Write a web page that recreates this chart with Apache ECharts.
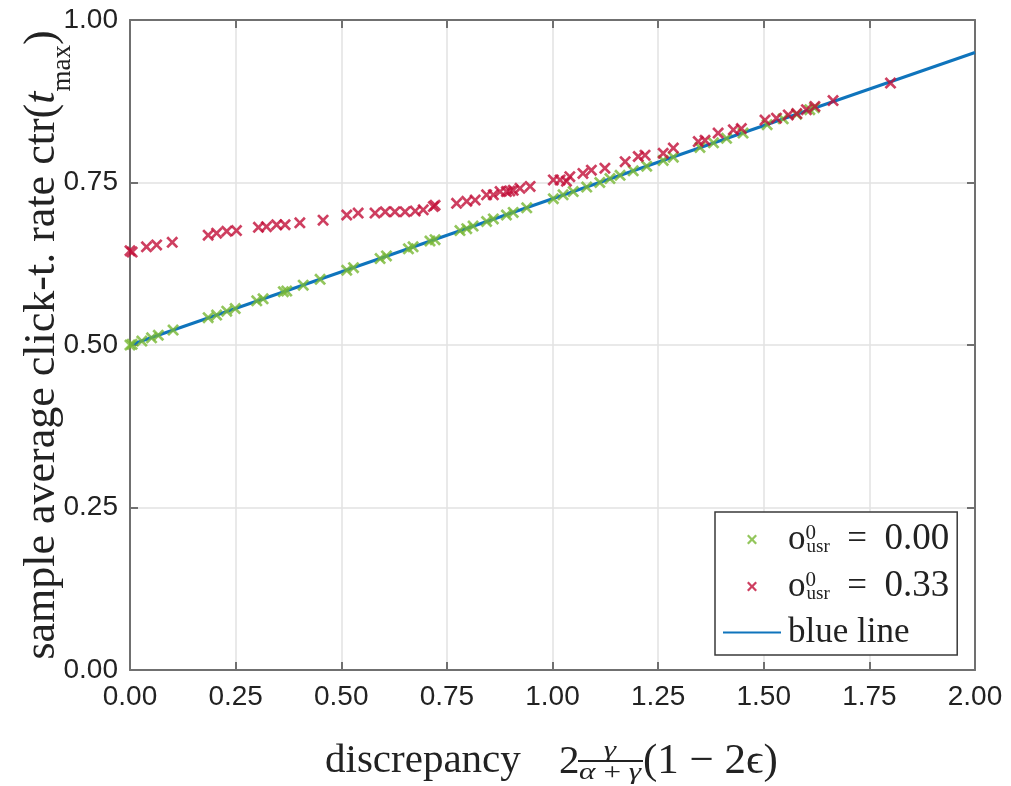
<!DOCTYPE html>
<html><head><meta charset="utf-8">
<script src="https://cdn.jsdelivr.net/npm/echarts@6/dist/echarts.min.js"></script>
<style>html,body{margin:0;padding:0;background:#fff}#c{width:1011px;height:786px}</style>
</head><body><div id="c"></div>
<script>
// ---- data ----
const xTickLabels = ['0.00','0.25','0.50','0.75','1.00','1.25','1.50','1.75','2.00'];
const yTickLabels = ['0.00','0.25','0.50','0.75','1.00'];
const seriesNames = ['o_usr^0 = 0.00', 'o_usr^0 = 0.33', 'blue line'];

const greenX = [0,0.005,0.028,0.051,0.067,0.102,0.185,0.205,0.229,0.249,0.300,0.315,0.363,0.371,0.410,0.450,0.513,0.529,0.592,0.607,0.659,0.670,0.710,0.722,0.781,0.797,0.812,0.844,0.860,0.891,0.907,0.939,1.002,1.025,1.049,1.081,1.112,1.136,1.160,1.191,1.223,1.262,1.286,1.349,1.381,1.412,1.451,1.508,1.546,1.578,1.609,1.620];
const greenY = [0.500,0.501,0.506,0.511,0.515,0.523,0.542,0.546,0.552,0.556,0.568,0.571,0.582,0.583,0.592,0.601,0.615,0.619,0.633,0.637,0.648,0.651,0.660,0.662,0.676,0.679,0.683,0.690,0.694,0.700,0.704,0.711,0.725,0.731,0.736,0.743,0.750,0.756,0.761,0.768,0.775,0.784,0.789,0.804,0.811,0.818,0.826,0.839,0.848,0.855,0.862,0.865];

const redX = [0,0.005,0.039,0.063,0.100,0.185,0.205,0.229,0.252,0.304,0.323,0.347,0.367,0.402,0.457,0.513,0.540,0.580,0.604,0.627,0.651,0.675,0.694,0.718,0.722,0.773,0.797,0.817,0.844,0.860,0.876,0.891,0.899,0.907,0.923,0.947,1.002,1.018,1.033,1.041,1.072,1.092,1.124,1.172,1.203,1.219,1.262,1.286,1.345,1.361,1.392,1.428,1.447,1.503,1.530,1.558,1.578,1.601,1.621,1.664,1.800];
const redY = [0.645,0.643,0.651,0.654,0.658,0.669,0.672,0.675,0.676,0.681,0.682,0.685,0.685,0.688,0.692,0.700,0.703,0.703,0.705,0.705,0.705,0.706,0.708,0.713,0.715,0.718,0.721,0.723,0.731,0.731,0.736,0.736,0.737,0.738,0.741,0.744,0.754,0.754,0.752,0.759,0.764,0.769,0.772,0.782,0.790,0.792,0.795,0.803,0.813,0.815,0.826,0.831,0.833,0.846,0.849,0.854,0.856,0.862,0.867,0.876,0.903];

const lineX = [0, 2];
const lineY = [0.5, 0.95];

// ---- styling ----
const GREEN = '#78B833';
const RED = '#C20F38';
const BLUE = '#0F74BC';
const AX = '#222222';
const AXLINE = '#707070';
const crossPath = 'path://M0,1.6L1.6,0L5,3.4L8.4,0L10,1.6L6.6,5L10,8.4L8.4,10L5,6.6L1.6,10L0,8.4L3.4,5Z';
const zip = (xs, ys) => xs.map((x, i) => [x, ys[i]]);

const chart = echarts.init(document.getElementById('c'), null, {renderer: 'canvas'});

const tickFont = {fontFamily: 'Liberation Sans, Arial, sans-serif', fontSize: 28, color: AX};
const serif = 'Liberation Serif, Times New Roman, serif';

const option = {
  animation: false,
  backgroundColor: '#fff',
  grid: {left: 130, right: 36, top: 20, bottom: 116, show: false, containLabel: false, outerBoundsMode: 'none'},
  xAxis: [{
    type: 'value', min: 0, max: 2, interval: 0.25,
    axisLine: {show: true, lineStyle: {color: AXLINE, width: 2}},
    axisTick: {show: true, inside: true, length: 8, lineStyle: {color: AXLINE, width: 2}},
    axisLabel: Object.assign({margin: 13, formatter: (v) => xTickLabels[Math.round(v / 0.25)]}, tickFont),
    splitLine: {show: true, lineStyle: {color: '#e2e2e2', width: 1.5}}
  }, {
    type: 'value', position: 'top', min: 0, max: 2, interval: 0.25,
    axisLine: {show: true, onZero: false, lineStyle: {color: AXLINE, width: 2}},
    axisTick: {show: true, inside: true, length: 8, lineStyle: {color: AXLINE, width: 2}},
    axisLabel: {show: false}, splitLine: {show: false}
  }],
  yAxis: [{
    type: 'value', min: 0, max: 1, interval: 0.25,
    axisLine: {show: true, lineStyle: {color: AXLINE, width: 2}},
    axisTick: {show: true, inside: true, length: 8, lineStyle: {color: AXLINE, width: 2}},
    axisLabel: Object.assign({margin: 12, formatter: (v) => yTickLabels[Math.round(v / 0.25)]}, tickFont),
    splitLine: {show: true, lineStyle: {color: '#e2e2e2', width: 1.5}},
    name: '{t|sample average click-t. rate ctr(}{it|t}{sub|max}{t|)}',
    nameLocation: 'middle', nameGap: 64, nameMoveOverlap: false,
    nameTextStyle: {
      rich: {
        t: {fontFamily: serif, fontSize: 44, color: AX, lineHeight: 48},
        it: {fontFamily: serif, fontSize: 44, fontStyle: 'italic', color: AX, lineHeight: 48},
        sub: {fontFamily: serif, fontSize: 27, color: AX, lineHeight: 48, verticalAlign: 'bottom', padding: [0, 0, -10, 0]}
      }
    }
  }, {
    type: 'value', position: 'right', min: 0, max: 1, interval: 0.25,
    axisLine: {show: true, onZero: false, lineStyle: {color: AXLINE, width: 2}},
    axisTick: {show: true, inside: true, length: 8, lineStyle: {color: AXLINE, width: 2}},
    axisLabel: {show: false}, splitLine: {show: false}
  }],
  legend: {
    orient: 'vertical', left: 715, top: 512,
    backgroundColor: '#fff', borderColor: '#3a3a3a', borderWidth: 1.5, borderRadius: 0,
    padding: [9, 8, 5, 7], itemGap: 10, itemWidth: 58, itemHeight: 10,
    data: [
      {name: seriesNames[0], icon: crossPath},
      {name: seriesNames[1], icon: crossPath},
      {name: seriesNames[2], itemStyle: {color: 'rgba(0,0,0,0)', borderWidth: 0, opacity: 0}}
    ],
    formatter: function (name) {
      if (name === seriesNames[2]) return '{t|blue line}';
      const val = name.split('= ')[1];
      return '{t|o}{sup|0}{sub|usr}{t|\u2002=\u2002}{v|' + val + '}';
    },
    textStyle: {
      padding: [0, 0, 0, 2],
      rich: {
        t: {fontFamily: serif, fontSize: 35, color: AX, lineHeight: 34},
        v: {fontFamily: serif, fontSize: 37, color: AX, lineHeight: 34},
        sup: {fontFamily: serif, fontSize: 21, color: AX, lineHeight: 12, width: 1, align: 'left', verticalAlign: 'top'},
        sub: {fontFamily: serif, fontSize: 19, color: AX, lineHeight: 10, verticalAlign: 'bottom'}
      }
    }
  },
  graphic: [
    {type: 'text', x: 325, y: 741, silent: true, style: {text: 'discrepancy', fontFamily: serif, fontSize: 41, fill: AX}},
    {type: 'text', x: 559, y: 742, silent: true, style: {text: '2', fontFamily: serif, fontSize: 41, fill: AX}},
    {type: 'text', x: 610, y: 739, scaleX: 1.3, silent: true, style: {text: 'γ', fontFamily: serif, fontStyle: 'italic', fontSize: 24, fill: AX, align: 'center'}},
    {type: 'line', silent: true, shape: {x1: 578, y1: 761, x2: 643, y2: 761}, style: {stroke: AX, lineWidth: 2.2}},
    {type: 'text', x: 610, y: 761, scaleX: 1.3, silent: true, style: {text: 'α\u2009+\u2009γ', fontFamily: serif, fontStyle: 'italic', fontSize: 24, fill: AX, align: 'center'}},
    {type: 'text', x: 643, y: 740, silent: true, style: {text: '(1 − 2ϵ)', fontFamily: serif, fontSize: 43, fill: AX}}
  ],
  series: [
    {
      name: seriesNames[0], type: 'scatter', z: 3,
      symbol: crossPath, symbolSize: 12,
      itemStyle: {color: GREEN},
      data: zip(greenX, greenY)
    },
    {
      name: seriesNames[1], type: 'scatter', z: 4,
      symbol: crossPath, symbolSize: 12,
      itemStyle: {color: RED},
      data: zip(redX, redY)
    },
    {
      name: seriesNames[2], type: 'line', z: 2,
      symbol: 'none', showSymbol: false,
      lineStyle: {color: BLUE, width: 3}, itemStyle: {color: BLUE},
      data: zip(lineX, lineY)
    }
  ]
};
chart.setOption(option);
</script>
</body></html>
